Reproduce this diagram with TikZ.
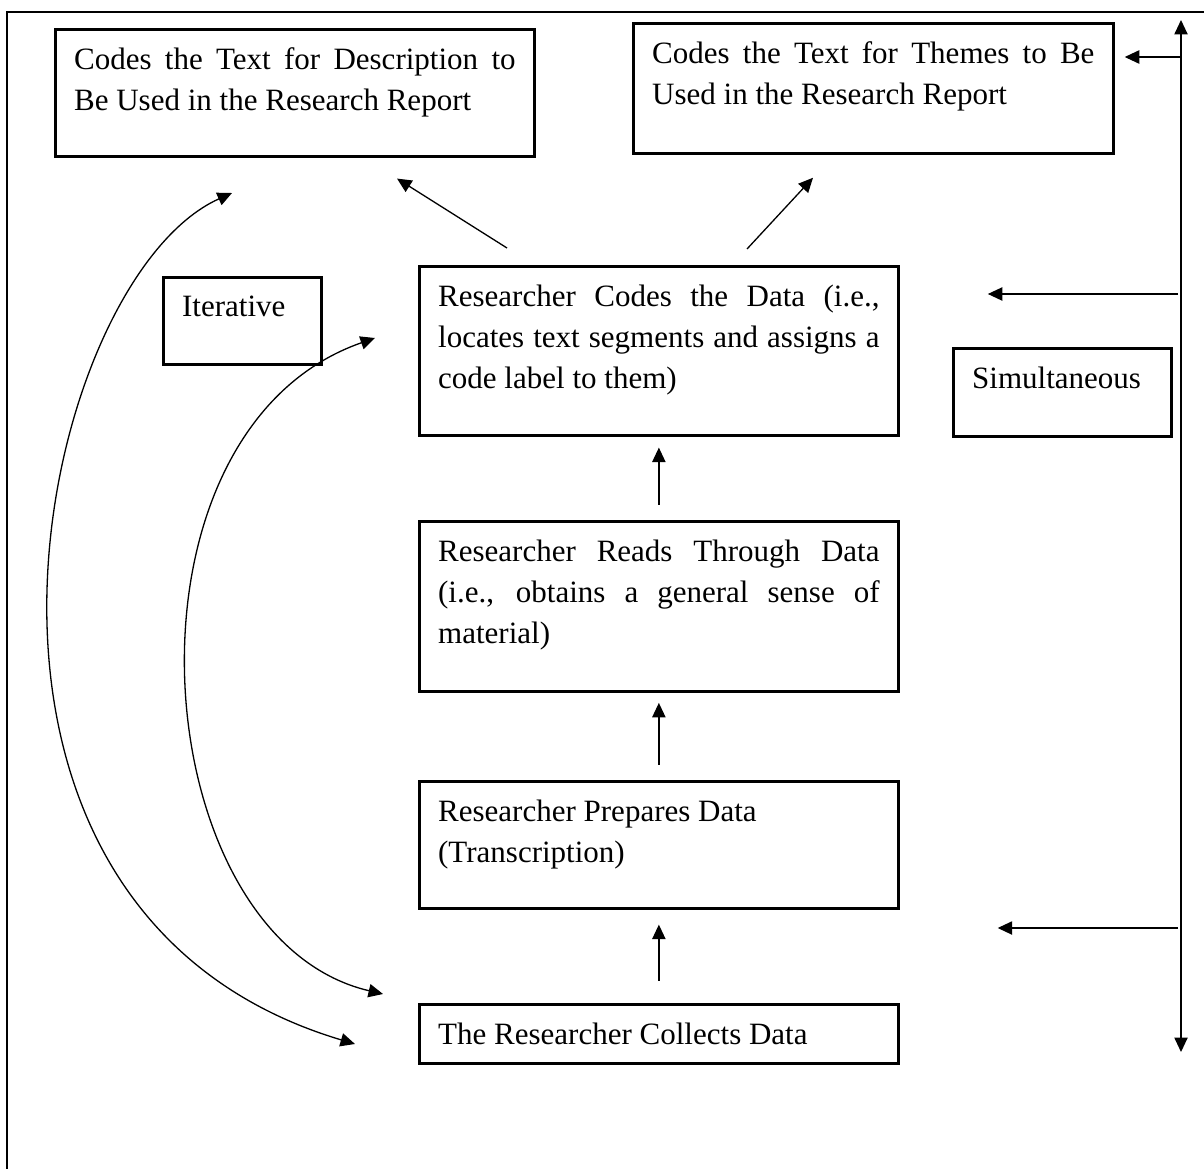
\documentclass[tikz,border=0pt]{standalone}
\usepackage{fontspec}
\setmainfont{Liberation Serif}
\usetikzlibrary{arrows.meta}
\newcommand{\fullline}[1]{\makebox[\linewidth][s]{#1}\\}
\newcommand{\stagetext}[3]{\parbox[c][#2][t]{#1}{#3}}

\begin{document}
\begin{tikzpicture}[x=0.345pt, y=-0.345pt,
		stage/.style={draw, line width=0.9pt, inner xsep=6.5pt, inner ysep=6.5pt, anchor=north west, font=\fontsize{10.7}{14.1}\selectfont},
		flow/.style={-{Triangle[length=5pt,width=4.6pt]}, line width=0.45pt},
		both/.style={{Triangle[length=5pt,width=4.6pt]}-{Triangle[length=5pt,width=4.6pt]}, line width=0.45pt}]
		\path[use as bounding box, fill=white] (0,0) rectangle (1204,1169);
		
		\draw[line width=0.9pt] (7,1169) -- (7,12) -- (1204,12);
		
		\node[stage] (desc) at (54,28) {\stagetext{152.3pt}{30.8pt}{\fullline{Codes the Text for Description to}Be Used in the Research Report}};
		\node[stage] (themes) at (632,22) {\stagetext{152.6pt}{31.9pt}{\fullline{Codes the Text for Themes to Be}Used in the Research Report}};
		\node[stage] (iter) at (162,276) {\stagetext{41.5pt}{17pt}{Iterative}};
		\node[stage] (codes) at (418,265) {\stagetext{152.3pt}{45.3pt}{\fullline{Researcher Codes the Data (i.e.,}\fullline{locates text segments and assigns a}code label to them)}};
		\node[stage] (simul) at (952,347) {\stagetext{62.2pt}{17.4pt}{Simultaneous}};
		\node[stage] (reads) at (418,520) {\stagetext{152.3pt}{45.7pt}{\fullline{Researcher Reads Through Data}\fullline{(i.e., obtains a general sense of}material)}};
		\node[stage] (prepares) at (418,780) {\stagetext{152.3pt}{30.8pt}{Researcher Prepares Data\\(Transcription)}};
		\node[stage] (collects) at (418,1003) {\stagetext{152.3pt}{7.4pt}{The Researcher Collects Data}};
		
		% steps upward
		\draw[flow, shorten <=7.6pt, shorten >=5.2pt] (collects) -- (prepares);
		\draw[flow, shorten <=5.2pt, shorten >=3.5pt] (prepares) -- (reads);
		\draw[flow, shorten <=5.2pt, shorten >=3.8pt] (reads) -- (codes);
		\draw[flow] ([shift={(89,-17)}]codes.north west) -- ([shift={(343,21)}]desc.south west);
		\draw[flow] ([shift={(329,-16)}]codes.north west) -- ([shift={(181,23)}]themes.south west);
		
		% simultaneous rail
		\coordinate (railtop) at (1181,20);
		\coordinate (railbot) at (1181,1052);
		\coordinate (themesfeed) at (1181,57);
		\coordinate (codesfeed) at (1178,294);
		\coordinate (preparesfeed) at (1178,928);
		\draw[both] (railbot) -- (railtop);
		\draw[flow, shorten >=3.5pt] (themesfeed) -- (themesfeed -| themes.east);
		\draw[flow, shorten >=30.4pt] (codesfeed) -- (codesfeed -| codes.east);
		\draw[flow, shorten >=33.8pt] (preparesfeed) -- (preparesfeed -| prepares.east);
		
		% iterative loops
		\coordinate (outerlow) at (355,1044);
		\coordinate (outerhigh) at (232,193);
		\coordinate (innerlow) at (383,994);
		\coordinate (innerhigh) at (375,338);
		\draw[both] (outerlow) .. controls (-100,908) and (38,280) .. (outerhigh);
		\draw[both] (innerlow) .. controls (142.6,937.7) and (106.4,432) .. (innerhigh);
\end{tikzpicture}
\end{document}
